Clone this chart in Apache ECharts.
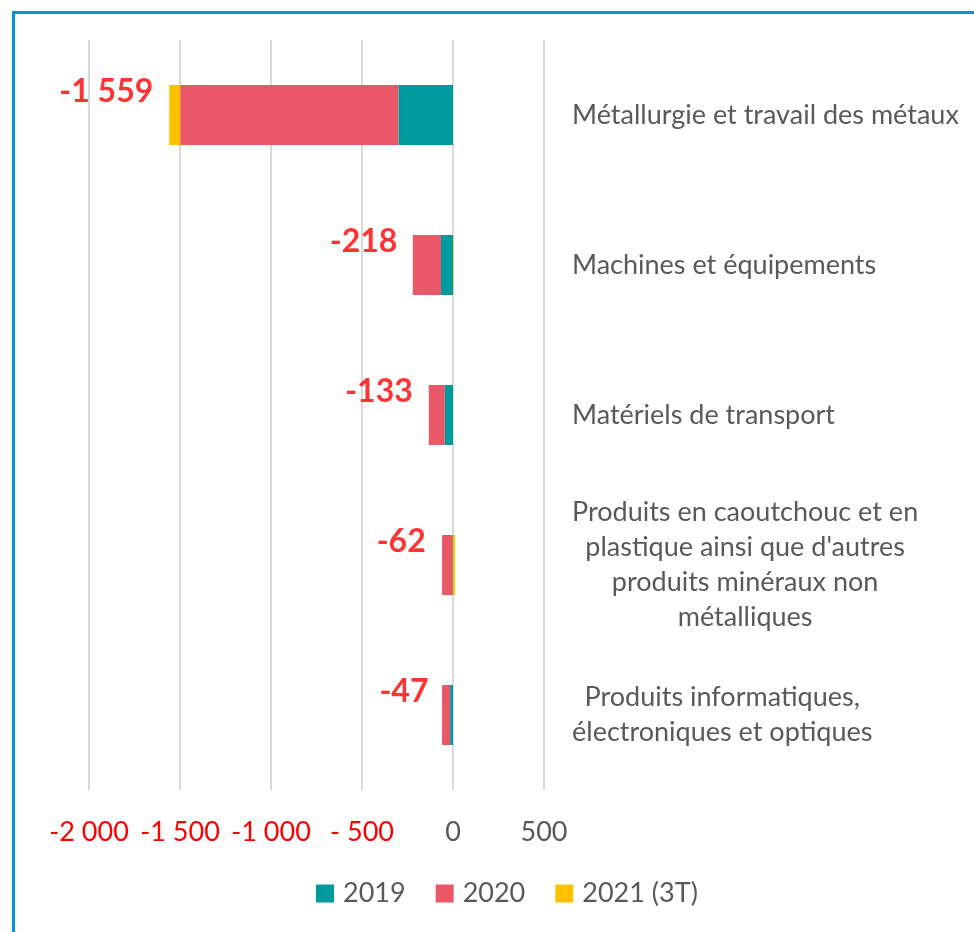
<!DOCTYPE html>
<html>
<head>
<meta charset="utf-8">
<script src="https://cdn.jsdelivr.net/npm/echarts@6/dist/echarts.min.js"></script>
<style>
  html, body { margin: 0; padding: 0; background: #fff; }
  #chart { width: 974px; height: 932px; }
</style>
</head>
<body>
<div id="chart"></div>
<script>
// categories, top to bottom
const categories = [
  'Métallurgie et travail des métaux',
  'Machines et équipements',
  'Matériels de transport',
  "Produits en caoutchouc et en\nplastique ainsi que d'autres\nproduits minéraux non\nmétalliques",
  'Produits informatiques,\nélectroniques et optiques'
];
const seriesNames = ['2019', '2020', '2021 (3T)'];
const values2019 = [-300, -66, -45, -4, -16];
const values2020 = [-1199, -155, -88, -56, -44];
const values2021 = [-60, 3, 0, 12, 0];
// totals shown as red labels
const totals = [-1559, -218, -133, -62, -47];
const xTicks = [-2000, -1500, -1000, -500, 0, 500];
const xTickLabels = ['-2 000', '-1 500', '-1 000', '- 500', '0', '500'];

const colors = ['#009B9E', '#EA5868', '#FFC000'];
const font = 'Lato, "Open Sans", sans-serif';

const chart = echarts.init(document.getElementById('chart'));

const barSeries = [values2019, values2020, values2021].map((vals, i) => ({
  name: seriesNames[i],
  type: 'bar',
  stack: 'total',
  barWidth: 60,
  itemStyle: { color: colors[i] },
  data: vals
}));

chart.setOption({
  animation: false,
  color: colors,
  graphic: [{
    type: 'rect',
    shape: { x: 13.5, y: 12.5, width: 1000, height: 1000 },
    style: { fill: 'none', stroke: '#0096D6', lineWidth: 3 },
    z: 100
  }],
  grid: { left: 89, right: 430, top: 40, bottom: 142 },
  legend: {
    data: seriesNames,
    left: 311,
    top: 875,
    itemWidth: 18,
    itemHeight: 18,
    itemGap: 30,
    icon: 'rect',
    textStyle: { fontFamily: font, fontSize: 27, color: '#595959', padding: [0, 0, 0, 4] }
  },
  xAxis: {
    type: 'value',
    min: -2000,
    max: 500,
    interval: 500,
    axisLine: { show: false },
    axisTick: { show: false },
    splitLine: { lineStyle: { color: '#D9D9D9', width: 2 } },
    axisLabel: {
      margin: 29,
      fontFamily: font,
      fontSize: 27,
      formatter: function (v) {
        const idx = xTicks.indexOf(v);
        const txt = idx >= 0 ? xTickLabels[idx] : String(v);
        return v < 0 ? '{n|' + txt + '}' : '{p|' + txt + '}';
      },
      rich: {
        n: { color: '#FF0000', fontFamily: font, fontSize: 27 },
        p: { color: '#595959', fontFamily: font, fontSize: 27 }
      }
    }
  },
  yAxis: {
    type: 'category',
    position: 'right',
    inverse: true,
    data: categories,
    axisLine: { show: false },
    axisTick: { show: false },
    axisLabel: {
      align: 'left',
      margin: 28,
      lineHeight: 35,
      formatter: function (v) {
        return v.split('\n').map(s => '{c|' + s + '}').join('\n');
      },
      rich: {
        c: { align: 'center', fontFamily: font, fontSize: 27, color: '#595959', lineHeight: 35 }
      }
    }
  },
  series: barSeries.concat([{
    name: 'totaux',
    type: 'scatter',
    symbolSize: 0,
    silent: true,
    data: totals.map((t, i) => [t, i]),
    label: {
      show: true,
      position: 'left',
      distance: 16,
      offset: [0, -23],
      formatter: function (p) {
        const n = Math.abs(p.value[0]);
        const s = n >= 1000 ? Math.floor(n / 1000) + ' ' + String(n % 1000).padStart(3, '0') : String(n);
        return '-' + s;
      },
      color: '#FF0000',
      fontFamily: font,
      fontWeight: 'bold',
      fontSize: 32
    }
  }])
});
</script>
</body>
</html>
